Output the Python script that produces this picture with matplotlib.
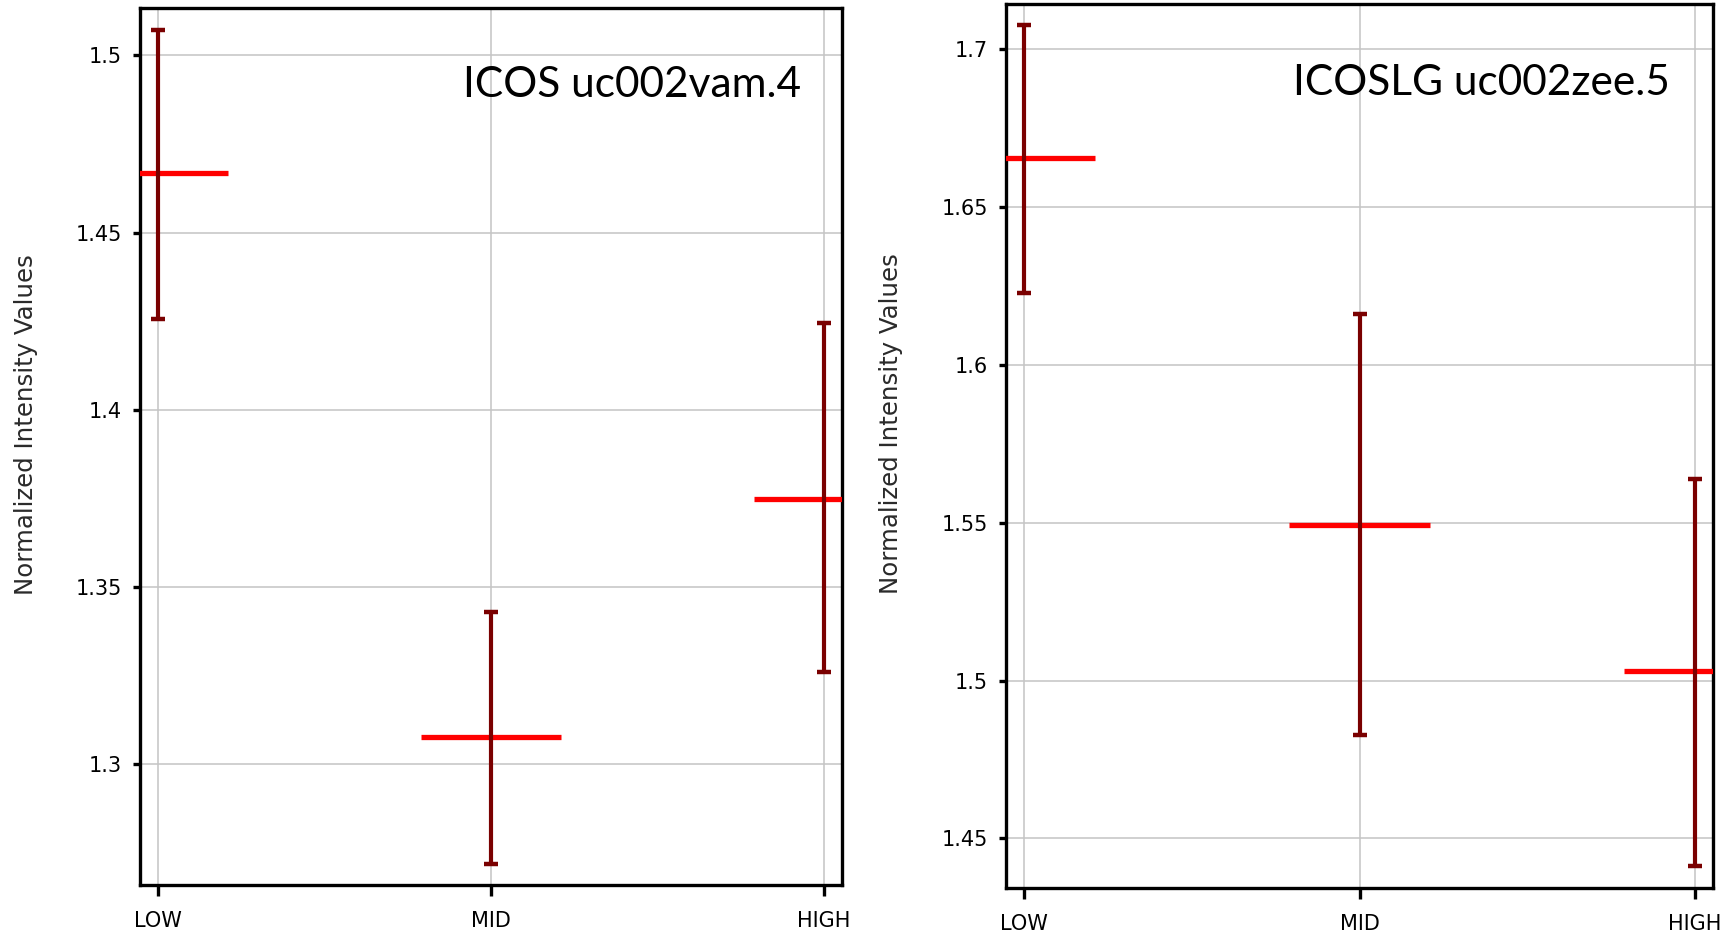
import matplotlib
matplotlib.use("Agg")
import matplotlib.pyplot as plt
from matplotlib import font_manager

# ---- data ----
categories = ["LOW", "MID", "HIGH"]

left_title = "ICOS uc002vam.4"
left_mean = [1.4668, 1.3075, 1.3748]
left_upper = [1.5071, 1.3429, 1.4245]
left_lower = [1.4255, 1.2717, 1.3258]
left_yticks = [1.3, 1.35, 1.4, 1.45, 1.5]
left_yticklabels = ["1.3", "1.35", "1.4", "1.45", "1.5"]
left_ylim = (1.2658, 1.5134)

right_title = "ICOSLG uc002zee.5"
right_mean = [1.6655, 1.5494, 1.5030]
right_upper = [1.7077, 1.6160, 1.5637]
right_lower = [1.6229, 1.4828, 1.4413]
right_yticks = [1.45, 1.5, 1.55, 1.6, 1.65, 1.7]
right_yticklabels = ["1.45", "1.5", "1.55", "1.6", "1.65", "1.7"]
right_ylim = (1.4343, 1.7143)

ylabel = "Normalized Intensity Values"

# ---- fonts ----
names = {f.name for f in font_manager.fontManager.ttflist}
tick_font = "DejaVu Sans"
for cand in ["DejaVu Sans Condensed", "Liberation Sans Narrow"]:
    if cand in names:
        tick_font = cand
        break
tick_size = 17 if tick_font != "DejaVu Sans" else 15
title_font = "Lato" if "Lato" in names else "DejaVu Sans"

fig = plt.figure(figsize=(17.26, 9.34), dpi=100)
ax1 = fig.add_axes([140 / 1726, 1 - 885 / 934, 702 / 1726, 877 / 934])
ax2 = fig.add_axes([1006 / 1726, 1 - 888 / 934, 707 / 1726, 884 / 934])


def draw(ax, mean, upper, lower, yticks, yticklabels, ylim, title, tx, ty):
    x = list(range(len(categories)))
    err_lo = [m - l for m, l in zip(mean, lower)]
    err_hi = [u - m for m, u in zip(mean, upper)]
    ax.hlines(mean, [xi - 0.21 for xi in x], [xi + 0.21 for xi in x],
              colors="#ff0000", linewidth=3.8, zorder=3)
    ax.errorbar(x, mean, yerr=[err_lo, err_hi], fmt="none", ecolor="#7a0000",
                elinewidth=3.0, capsize=4.7, capthick=3.2, zorder=4)
    ax.set_xlim(-0.054, 2.054)
    ax.set_ylim(*ylim)
    ax.set_xticks(x)
    ax.set_xticklabels(categories, fontfamily=tick_font, fontsize=tick_size)
    ax.set_yticks(yticks)
    ax.set_yticklabels(yticklabels, fontfamily=tick_font, fontsize=tick_size)
    ax.grid(True, color="#c4c4c4", linewidth=1.1, zorder=0)
    ax.set_axisbelow(True)
    for s in ax.spines.values():
        s.set_linewidth(2.4)
        s.set_color("black")
    ax.tick_params(axis="y", length=5, width=2.4, pad=8, direction="out")
    ax.tick_params(axis="x", length=8, width=2.4, pad=11, direction="out")
    ax.set_ylabel(ylabel, fontsize=17.6, color="#2a2a2a", fontfamily="DejaVu Sans")
    ax.yaxis.set_label_coords(-0.145, 0.525)
    ax.text(tx, ty, title, transform=ax.transAxes, ha="right", va="baseline",
            fontsize=30.5, fontfamily=title_font, color="black")


draw(ax1, left_mean, left_upper, left_lower, left_yticks, left_yticklabels,
     left_ylim, left_title, 0.9417, 0.8985)
draw(ax2, right_mean, right_upper, right_lower, right_yticks, right_yticklabels,
     right_ylim, right_title, 0.939, 0.8975)

fig.savefig("out.png", dpi=100)
